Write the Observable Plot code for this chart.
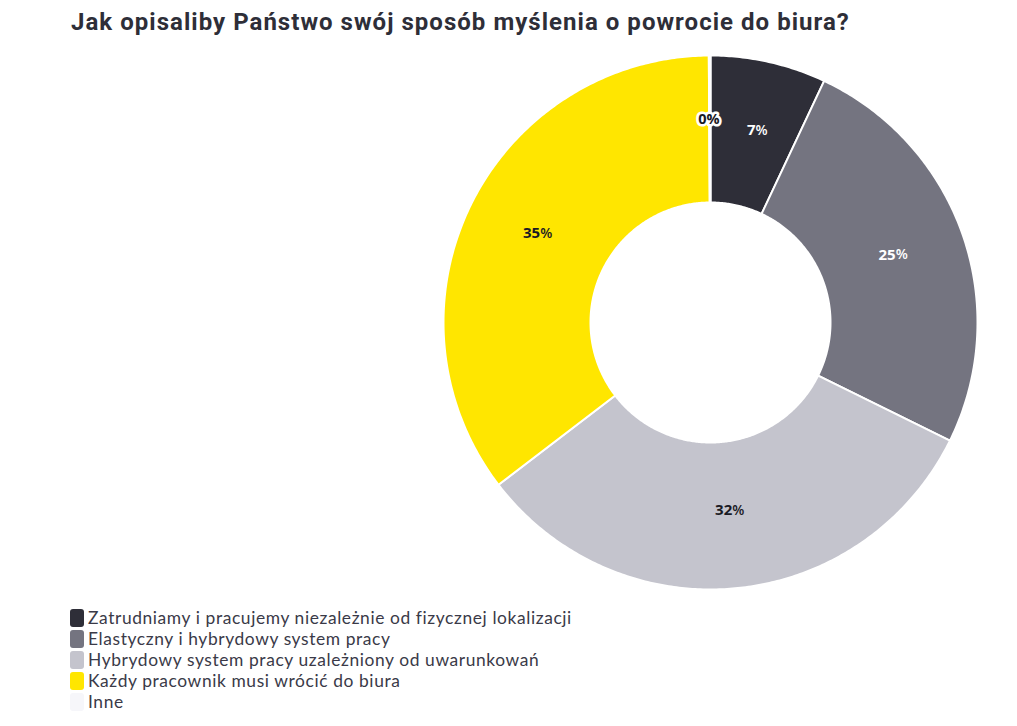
<!DOCTYPE html>
<html>
<head>
<meta charset="utf-8">
<script src="https://cdn.jsdelivr.net/npm/d3@7"></script>
<script src="https://cdn.jsdelivr.net/npm/@observablehq/plot@0.6"></script>
<style>
  body { margin: 0; background: #fff; width: 1017px; height: 726px; overflow: hidden; position: relative; font-family: "Open Sans", sans-serif; }
  #title { position: absolute; left: 71px; top: 8px; font-family: Roboto, sans-serif; font-weight: 700; font-size: 24px; color: #2e2e38; letter-spacing: 1.03px; white-space: nowrap; }
  #chart { position: absolute; left: 0; top: 42px; }
  #legend { position: absolute; left: 70px; top: 607px; }
  .row { display: flex; align-items: center; height: 21.2px; font-family: Lato, sans-serif; font-size: 17.4px; color: #3a3a48; font-weight: 400; white-space: nowrap; letter-spacing: 0.6px; }
  .row span { display: block; line-height: 20px; height: 20px; }
  .sw { width: 14px; height: 18px; border-radius: 3px; margin-right: 4px; flex: none; }
</style>
</head>
<body>
<div id="title">Jak opisaliby Państwo swój sposób myślenia o powrocie do biura?</div>
<div id="chart"></div>
<div id="legend"></div>
<script>
const categories = [
  "Zatrudniamy i pracujemy niezależnie od fizycznej lokalizacji",
  "Elastyczny i hybrydowy system pracy",
  "Hybrydowy system pracy uzależniony od uwarunkowań",
  "Każdy pracownik musi wrócić do biura",
  "Inne"
];
const values = [7.0, 25.3, 32.3, 35.3, 0.1];
const colors = ["#2e2e38", "#747480", "#c4c4cd", "#ffe600", "#f6f6fa"];
const labelColors = ["#ffffff", "#ffffff", "#1a1a24", "#1a1a24", "#1a1a24"];

const innerR = 120 / 267;
const labelR = 193 / 267;

const pie = d3.pie().sort(null).value(d => d.value);
const arcs = pie(categories.map((c, i) => ({category: c, value: values[i], i})));

const polyPts = [];
arcs.forEach(a => {
  const n = Math.max(2, Math.ceil((a.endAngle - a.startAngle) / 0.01));
  for (let k = 0; k <= n; k++) {
    const t = a.startAngle + (a.endAngle - a.startAngle) * k / n;
    polyPts.push({category: a.data.category, x: Math.sin(t), y: Math.cos(t)});
  }
  for (let k = n; k >= 0; k--) {
    const t = a.startAngle + (a.endAngle - a.startAngle) * k / n;
    polyPts.push({category: a.data.category, x: innerR * Math.sin(t), y: innerR * Math.cos(t)});
  }
});

const labels = arcs.map(a => {
  const m = (a.startAngle + a.endAngle) / 2;
  const r = a.data.value < 1 ? 199 / 267 : labelR;
  return {num: String(Math.round(a.data.value)), x: r * Math.sin(m), y: r * Math.cos(m), color: labelColors[a.data.i], small: a.data.value < 1};
});

const chart = Plot.plot({
  width: 1017,
  height: 560,
  marginLeft: 443,
  marginRight: 40,
  marginTop: 13,
  marginBottom: 13,
  x: {domain: [-1, 1], axis: null},
  y: {domain: [-1, 1], axis: null},
  color: {domain: categories, range: colors},
  marks: [
    Plot.line(polyPts, {x: "x", y: "y", z: "category", fill: "category", stroke: "#fff", strokeWidth: 2, curve: "linear-closed"}),
    Plot.text(labels.filter(d => d.small), {x: "x", y: "y", text: d => d.num + "%", fill: "#1a1a24", stroke: "#fff", strokeWidth: 5, strokeLinejoin: "round", fontSize: 14.5, fontWeight: 700, fontFamily: "Open Sans, sans-serif", dx: -1, dy: -4}),
    Plot.text(labels.filter(d => !d.small), {x: "x", y: "y", text: "num", fill: d => d.color, textAnchor: "end", dx: 3, dy: -4, fontSize: 15, fontWeight: 700, fontFamily: "Open Sans, sans-serif"}),
    Plot.text(labels.filter(d => !d.small), {x: "x", y: "y", text: d => "%", fill: d => d.color, textAnchor: "start", dx: 3, dy: -4, fontSize: 14, fontWeight: 600, fontFamily: "Open Sans, sans-serif"})
  ]
});
document.getElementById("chart").appendChild(chart);

const legend = document.getElementById("legend");
categories.forEach((c, i) => {
  const row = document.createElement("div");
  row.className = "row";
  const sw = document.createElement("div");
  sw.className = "sw";
  sw.style.background = colors[i];
  const tx = document.createElement("span");
  tx.textContent = c;
  row.appendChild(sw);
  row.appendChild(tx);
  legend.appendChild(row);
});
</script>
</body>
</html>
